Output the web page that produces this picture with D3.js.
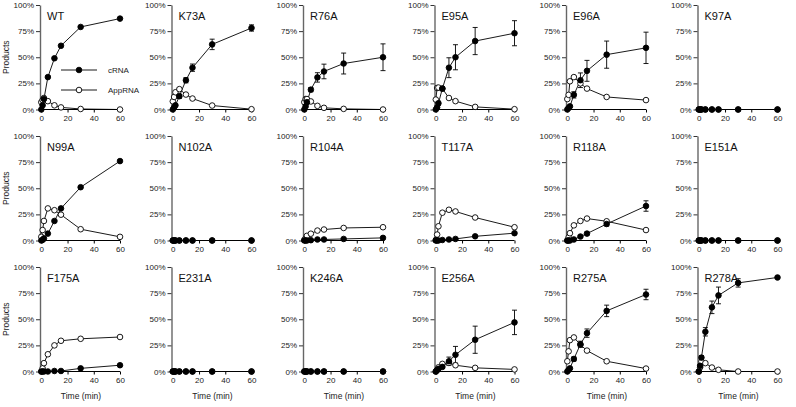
<!DOCTYPE html>
<html><head><meta charset="utf-8">
<script src="https://cdn.jsdelivr.net/npm/d3@7"></script>
<style>body{margin:0;background:#fff}svg{display:block}</style>
</head><body>
<script>
const times = [0, 1, 2, 5, 10, 15, 30, 60];
const panels = ["WT","K73A","R76A","E95A","E96A","K97A",
                "N99A","N102A","R104A","T117A","R118A","E151A",
                "F175A","E231A","K246A","E256A","R275A","R278A"];
const cRNA = [
  [0, 4, 10, 31, 49, 61, 79, 87],
  [0, 2, 4, 12.7, 28, 40, 62.3, 78],
  [0, 3, 7, 19, 30.7, 36.4, 44, 50],
  [0, 2, 6, 20, 40, 50, 65.5, 73],
  [0, 1.5, 3, 14, 28, 37, 52.5, 59],
  [0, 0, 0, 0, 0, 0, 0, 0],
  [0, 0.6, 2, 6.6, 18.7, 30.7, 51, 76],
  [0, 0, 0, 0, 0, 0, 0, 0],
  [0, 0, 0, 0.3, 1, 1, 1.5, 2.5],
  [0, 0, 0, 0.5, 1, 1.5, 4, 7],
  [0, 0, 0, 1, 3.8, 6.6, 15.8, 33],
  [0, 0, 0, 0, 0, 0, 0, 0],
  [0, 0, 0, 0, 0.5, 0.5, 3, 6],
  [0, 0, 0, 0, 0, 0, 0, 0],
  [0, 0, 0, 0, 0, 0, 0, 0],
  [0, 1.5, 2.5, 4.4, 9.8, 16, 30.4, 47],
  [0, 1.5, 3, 12, 26, 36.7, 58, 73.7],
  [0, 5.4, 13.3, 38, 61.4, 72.8, 84.8, 90]
];
const cRNAErr = [
  [0, 0, 0, 0, 0, 0, 0, 0],
  [0, 1, 1, 2, 2.5, 3.5, 5, 3],
  [0, 1, 1.5, 2, 4.5, 7, 10, 12.8],
  [0, 1, 2, 2, 9.5, 12, 13, 12],
  [0, 0.5, 1, 3, 7, 10, 13, 15],
  [0, 0, 0, 0, 0, 0, 0, 0],
  [0, 0, 0, 0, 0, 0, 0, 0],
  [0, 0, 0, 0, 0, 0, 0, 0],
  [0, 0, 0, 0, 0, 0, 0, 0],
  [0, 0, 0, 0, 0, 0, 0, 0],
  [0, 0, 0, 0.5, 1, 1.5, 2, 5],
  [0, 0, 0, 0, 0, 0, 0, 0],
  [0, 0, 0, 0, 0, 0, 0, 0],
  [0, 0, 0, 0, 0, 0, 0, 0],
  [0, 0, 0, 0, 0, 0, 0, 0],
  [0, 0.5, 1, 1.5, 4, 8, 13, 11.7],
  [0, 0.5, 1, 2, 3, 4, 5.5, 5],
  [0, 1, 2, 4, 6, 8, 4, 1]
];
const AppRNA = [
  [7, 9, 11, 8, 4, 2, 0.5, 0],
  [7.8, 12, 16.5, 19.5, 14.3, 10.5, 3.8, 0.3],
  [7, 10, 10, 7.7, 3.5, 1.6, 0.6, 0],
  [9.5, 20.6, 21, 20, 11, 8, 2.5, 0.3],
  [10, 14, 27, 31, 25, 20, 12, 9],
  [0, 0, 0, 0, 0, 0, 0, 0],
  [3.5, 10, 18.7, 30.7, 29, 24.7, 10.8, 3.5],
  [0, 0, 0, 0, 0, 0, 0, 0],
  [0.5, 2, 4.5, 6.5, 9.5, 10.5, 12, 12.7],
  [0.5, 5.7, 13.6, 26.6, 29.4, 27.8, 22, 12.7],
  [0, 3, 7, 14.5, 18.7, 21, 18.4, 10],
  [0, 0, 0, 0, 0, 0, 0, 0],
  [0, 3, 8, 16.5, 25, 29.4, 31.3, 33],
  [0, 0, 0, 0, 0, 0, 0, 0],
  [0, 0, 0, 0, 0, 0, 0, 0],
  [0, 1.2, 4, 7.3, 8.2, 6, 3.5, 2],
  [9.8, 19.3, 30, 32.6, 25.6, 20, 9.8, 2.8],
  [0, 4, 9.5, 8, 3.8, 1.6, 0, 0]
];
const yTicks = [0, 25, 50, 75, 100];
const xTicks = [0, 20, 40, 60];
const legendLabels = ["cRNA", "AppRNA"];

const W = 796, H = 407;
const FONT = "'Liberation Sans', Arial, sans-serif";
const svg = d3.select("body").append("svg").attr("width", W).attr("height", H)
  .style("font-family", FONT);

const colX0 = 40, colStep = 131.5, panelW = 80;
const rowY0 = 5, rowStep = 131, panelH = 104.5;
const R = 2.8;

panels.forEach((name, i) => {
  const col = i % 6, row = Math.floor(i / 6);
  const left = colX0 + col * colStep, top = rowY0 + row * rowStep;
  const x = d3.scaleLinear().domain([-1, 60]).range([0, panelW]);
  const y = d3.scaleLinear().domain([0, 100]).range([panelH, 0]);
  const g = svg.append("g").attr("transform", `translate(${left},${top})`);

  const ya = g.append("g").call(d3.axisLeft(y).tickValues(yTicks).tickFormat(d => d + "%").tickSize(4).tickSizeOuter(0));
  ya.select(".domain").attr("stroke", "#666").attr("stroke-width", 1.4);
  ya.selectAll(".tick line").attr("stroke", "#333");
  ya.selectAll("text").attr("font-size", 8).attr("fill", "#222").attr("font-family", FONT).attr("x", -6);

  const xa = g.append("g").attr("transform", `translate(0,${panelH})`)
    .call(d3.axisBottom(x).tickValues(xTicks).tickSize(3).tickSizeOuter(0));
  xa.select(".domain").attr("stroke", "#000").attr("d", `M0,0H${x(60)}`);
  xa.selectAll("text").attr("font-size", 8).attr("fill", "#222").attr("font-family", FONT).attr("y", 6);

  g.append("text").attr("x", 7).attr("y", 14.5).attr("font-size", 11).attr("fill", "#111").text(name);

  const line = d3.line().x((d, j) => x(times[j])).y(d => y(d));

  g.append("path").datum(AppRNA[i]).attr("d", line).attr("fill", "none").attr("stroke", "#000").attr("stroke-width", 0.9);
  g.append("path").datum(cRNA[i]).attr("d", line).attr("fill", "none").attr("stroke", "#000").attr("stroke-width", 0.9);

  const eb = g.append("g").attr("stroke", "#000").attr("stroke-width", 0.9);
  cRNA[i].forEach((v, j) => {
    const e = cRNAErr[i][j];
    if (!e) return;
    const cx = x(times[j]);
    eb.append("line").attr("x1", cx).attr("x2", cx).attr("y1", y(v - e)).attr("y2", y(v + e));
    [v - e, v + e].forEach(b => {
      eb.append("line").attr("x1", cx - 2.5).attr("x2", cx + 2.5).attr("y1", y(b)).attr("y2", y(b));
    });
  });

  g.append("g").selectAll("circle").data(AppRNA[i]).join("circle")
    .attr("cx", (d, j) => x(times[j])).attr("cy", d => y(d)).attr("r", R)
    .attr("fill", "#fff").attr("stroke", "#000").attr("stroke-width", 0.9);
  g.append("g").selectAll("circle").data(cRNA[i]).join("circle")
    .attr("cx", (d, j) => x(times[j])).attr("cy", d => y(d)).attr("r", R)
    .attr("fill", "#000").attr("stroke", "#000").attr("stroke-width", 0.9);

  if (col === 0) {
    svg.append("text").attr("transform", `translate(9,${top + panelH * 0.5}) rotate(-90)`)
      .attr("text-anchor", "middle").attr("font-size", 8.5).attr("fill", "#222").text("Products");
  }
  if (row === 2) {
    svg.append("text").attr("x", left + panelW / 2 + 1).attr("y", top + panelH + 27)
      .attr("text-anchor", "middle").attr("font-size", 8.5).attr("fill", "#222").text("Time (min)");
  }

  if (i === 0) {
    const lg = g.append("g");
    legendLabels.forEach((lab, k) => {
      const cy = [65, 85][k];
      lg.append("line").attr("x1", 21).attr("x2", 57).attr("y1", cy).attr("y2", cy).attr("stroke", "#000").attr("stroke-width", 0.9);
      lg.append("circle").attr("cx", 39).attr("cy", cy).attr("r", R)
        .attr("fill", k === 0 ? "#000" : "#fff").attr("stroke", "#000").attr("stroke-width", 0.9);
      lg.append("text").attr("x", 68).attr("y", cy + 3).attr("font-size", 8).attr("fill", "#222").text(lab);
    });
  }
});
</script>
</body></html>
